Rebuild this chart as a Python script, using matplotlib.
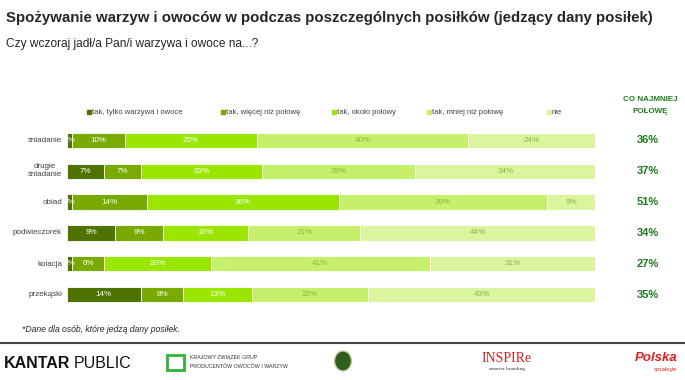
import numpy as np
import matplotlib.pyplot as plt
from matplotlib.patches import Rectangle, Ellipse

plt.rcParams['font.family'] = ['Liberation Sans', 'DejaVu Sans']

# ================= DATA =================
meals = ["śniadanie", "drugie\nśniadanie", "obiad", "podwieczorek", "kolacja", "przekąski"]
series_names = ["tak, tylko warzywa i owoce", "tak, więcej niż połowę", "tak, około połowy",
                "tak, mniej niż połowę", "nie"]
only_veg = [1, 7, 1, 9, 1, 14]
more_half = [10, 7, 14, 9, 6, 8]
about_half = [25, 23, 36, 16, 20, 13]
less_half = [40, 29, 39, 21, 41, 22]
no = [24, 34, 9, 44, 31, 43]
at_least_half = [36, 37, 51, 34, 27, 35]

colors = ["#4f7300", "#78aa00", "#9be600", "#c6ef6c", "#daf59e"]
label_colors = ["white", "white", "white", "#8ab842", "#8ab842"]
# ========================================

W, H = 685, 380
fig = plt.figure(figsize=(W / 100, H / 100), dpi=100)


def fx(px):
    return px / W


def fy(py):
    return 1 - py / H


# bars area: x 67..595 px, rows centred at 140 + 31*i
ax = fig.add_axes([fx(67), fy(310), fx(595 - 67), (310 - 125) / H])
ax.set_xlim(0, 100)
ax.set_ylim(5.484, -0.484)
ax.axis("off")

data = np.array([only_veg, more_half, about_half, less_half, no], dtype=float)
shares = data / data.sum(axis=0) * 100  # each row fills the full width (100%)
y = np.arange(len(meals))
left = np.zeros(len(meals))
for vals, widths, col, lc in zip(data, shares, colors, label_colors):
    ax.barh(y, widths, left=left, height=0.484, color=col, edgecolor="white", linewidth=0.6)
    for yi, v, w, l0 in zip(y, vals, widths, left):
        ax.text(l0 + w / 2, yi, f"{int(v)}%", ha="center", va="center",
                fontsize=5.8, color=lc)
    left += widths

for yi, m in zip(y, meals):
    fig.text(fx(62), fy(140 + 31 * yi), m, ha="right", va="center",
             fontsize=5.8, color="#404040", multialignment="center")

# right column
fig.text(fx(650), fy(105), "CO NAJMNIEJ\nPOŁOWĘ", ha="center", va="center",
         fontsize=5.8, fontweight="bold", color="#1d7a1d", linespacing=2.0)
for yi, v in zip(y, at_least_half):
    fig.text(fx(648), fy(140 + 31 * yi), f"{v}%", ha="center", va="center",
             fontsize=8, fontweight="bold", color="#1d7a1d")

# legend
legend_x = [89, 223, 334, 429, 549]
for lx, name, col in zip(legend_x, series_names, colors):
    fig.patches.append(Rectangle((fx(lx - 2), fy(114)), fx(4), 4 / H,
                                 transform=fig.transFigure, color=col))
    fig.text(fx(lx + 3), fy(112), name, ha="left", va="center", fontsize=5.5, color="#404040")

# titles
fig.text(fx(6), fy(18), "Spożywanie warzyw i owoców w podczas poszczególnych posiłków (jedzący dany posiłek)",
         ha="left", va="center", fontsize=10.8, fontweight="bold", color="#262626")
fig.text(fx(6), fy(44), "Czy wczoraj jadł/a Pan/i warzywa i owoce na...?",
         ha="left", va="center", fontsize=8.6, color="#262626")

# footnote + separator
fig.text(fx(22), fy(330), "*Dane dla osób, które jedzą dany posiłek.", ha="left", va="center",
         fontsize=6.2, style="italic", color="#262626")
fig.add_artist(plt.Line2D([0, 1], [fy(343), fy(343)], transform=fig.transFigure,
                          color="#444444", linewidth=1.5))

# logos (as text)
fig.text(fx(4), fy(363), "KANTAR", ha="left", va="center", fontsize=11.5, fontweight="bold", color="#111111")
fig.text(fx(74), fy(363), "PUBLIC", ha="left", va="center", fontsize=11.5, color="#111111")
fig.patches.append(Rectangle((fx(167), fy(370)), fx(17), 15 / H, transform=fig.transFigure,
                             facecolor="white", edgecolor="#33b233", linewidth=2))
fig.text(fx(190), fy(357), "KRAJOWY ZWIĄZEK GRUP", ha="left", va="center", fontsize=3.8, color="#333333")
fig.text(fx(190), fy(366), "PRODUCENTÓW OWOCÓW I WARZYW", ha="left", va="center", fontsize=3.8, color="#333333")
fig.patches.append(Ellipse((fx(343), fy(361)), fx(17), 20 / H, transform=fig.transFigure,
                           facecolor="#2f5e1e", edgecolor="#c9c9a0", linewidth=1))
fig.text(fx(507), fy(358), "INSPIRe", ha="center", va="center", fontsize=10,
         family="Liberation Serif", color="#d62020")
fig.text(fx(507), fy(369), "smarter branding", ha="center", va="center", fontsize=3.8,
         family="Liberation Serif", color="#333333")
fig.text(fx(656), fy(358), "Polska", ha="center", va="center", fontsize=9.5, fontweight="bold",
         style="italic", color="#e02020")
fig.text(fx(666), fy(369), "smakuje", ha="center", va="center", fontsize=4.5,
         style="italic", color="#e02020")

fig.savefig("out.png", dpi=100)
